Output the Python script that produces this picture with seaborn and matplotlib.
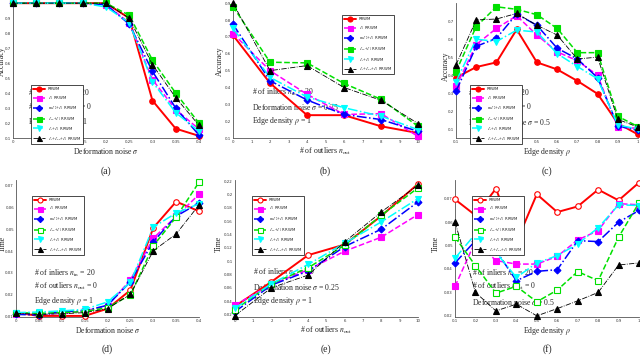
import matplotlib
matplotlib.use("Agg")
import numpy as np
import pandas as pd
import matplotlib.pyplot as plt
import seaborn as sns

# ---- data ----
methods = ["RRWM", r"$\ell_1$ RRWM", r"$\mathrm{nn}\ell_2{+}\ell_1$ RRWM",
           r"$\ell_{nn}{+}\ell_1$ RRWM", r"$\ell_g{+}\ell_1$ RRWM",
           r"$\ell_g{+}\ell_{nn}{+}\ell_1$ RRWM"]

noise = [0, 0.05, 0.1, 0.15, 0.2, 0.25, 0.3, 0.35, 0.4]
outliers = [0, 2, 4, 6, 8, 10]
density = [0.1, 0.2, 0.3, 0.4, 0.5, 0.6, 0.7, 0.8, 0.9, 1.0]

acc_noise = [
    [1, 1, 1, 1, 1, 0.90, 0.35, 0.163, 0.115],
    [1, 1, 1, 1, 0.99, 0.87, 0.49, 0.29, 0.16],
    [1, 1, 1, 1, 0.99, 0.86, 0.545, 0.30, 0.12],
    [1, 1, 1, 1, 1, 0.92, 0.62, 0.40, 0.20],
    [1, 1, 1, 1, 0.975, 0.87, 0.475, 0.27, 0.145],
    [1, 1, 1, 1, 1, 0.90, 0.59, 0.37, 0.185],
]
acc_outliers = [
    [0.71, 0.426, 0.236, 0.236, 0.17, 0.13],
    [0.72, 0.50, 0.36, 0.24, 0.245, 0.11],
    [0.775, 0.44, 0.326, 0.24, 0.21, 0.14],
    [0.88, 0.55, 0.546, 0.424, 0.33, 0.17],
    [0.75, 0.46, 0.344, 0.28, 0.23, 0.15],
    [0.90, 0.50, 0.53, 0.40, 0.324, 0.186],
]
acc_density = [
    [0.386, 0.445, 0.471, 0.654, 0.471, 0.432, 0.368, 0.296, 0.132, 0.07],
    [0.337, 0.57, 0.66, 0.73, 0.623, 0.53, 0.48, 0.40, 0.11, 0.105],
    [0.31, 0.56, 0.605, 0.74, 0.677, 0.55, 0.49, 0.386, 0.118, 0.093],
    [0.42, 0.67, 0.78, 0.766, 0.736, 0.66, 0.525, 0.525, 0.171, 0.114],
    [0.364, 0.60, 0.587, 0.65, 0.64, 0.52, 0.448, 0.38, 0.123, 0.10],
    [0.457, 0.707, 0.712, 0.743, 0.677, 0.623, 0.49, 0.50, 0.154, 0.111],
]
time_noise = [
    [0.0118, 0.0103, 0.0103, 0.0103, 0.0136, 0.0221, 0.0506, 0.0626, 0.0582],
    [0.0113, 0.0113, 0.0113, 0.0126, 0.0149, 0.0268, 0.0458, 0.0559, 0.0659],
    [0.0110, 0.0107, 0.0123, 0.0126, 0.0152, 0.0259, 0.0443, 0.0559, 0.0620],
    [0.0118, 0.0115, 0.0118, 0.0123, 0.0141, 0.0199, 0.0424, 0.0555, 0.0715],
    [0.0118, 0.0121, 0.0126, 0.0133, 0.0167, 0.0256, 0.0509, 0.0574, 0.0616],
    [0.0115, 0.0110, 0.0113, 0.0118, 0.0136, 0.0202, 0.0401, 0.0478, 0.0611],
]
time_outliers = [
    [0.032, 0.069, 0.109, 0.125, 0.168, 0.216],
    [0.034, 0.065, 0.087, 0.115, 0.136, 0.170],
    [0.024, 0.064, 0.085, 0.122, 0.148, 0.189],
    [0.027, 0.066, 0.090, 0.124, 0.169, 0.210],
    [0.029, 0.066, 0.095, 0.127, 0.159, 0.194],
    [0.018, 0.060, 0.079, 0.129, 0.174, 0.214],
]
time_density = [
    [0.0697, 0.0629, 0.0743, 0.0514, 0.0719, 0.0643, 0.0667, 0.0739, 0.0693, 0.0769],
    [0.0326, 0.0519, 0.0436, 0.0421, 0.0421, 0.0454, 0.0524, 0.0564, 0.0679, 0.0674],
    [0.0426, 0.0521, 0.0479, 0.0350, 0.0390, 0.0397, 0.0521, 0.0517, 0.0600, 0.0650],
    [0.0536, 0.0414, 0.0297, 0.0326, 0.0260, 0.0310, 0.0389, 0.0350, 0.0536, 0.0683],
    [0.0446, 0.0550, 0.0471, 0.0364, 0.0426, 0.0457, 0.0507, 0.0576, 0.0674, 0.0671],
    [0.0600, 0.0300, 0.0221, 0.0250, 0.0200, 0.0231, 0.0264, 0.0300, 0.0417, 0.0426],
]

# ---- styling ----
colors = ["#ff0000", "#ff00ff", "#0000ff", "#00e000", "#00ffff", "#000000"]
markers = ["o", "s", "D", "s", "v", "^"]
lstyles = ["-", "--", "-.", "--", "-.", "-."]
lwidths = [1.4, 1.1, 1.1, 1.1, 1.1, 0.6]
SERIF = ["Liberation Serif", "DejaVu Serif"]

sns.set_style("white")
plt.rcParams["font.family"] = ["DejaVu Sans"]
plt.rcParams["mathtext.fontset"] = "stix"

fig = plt.figure(figsize=(6.4, 3.55), dpi=100)

panels = [
    dict(x=noise, ys=acc_noise, rect=[0.0203, 0.611, 0.2906, 0.380],
         xlabel=r"Deformation noise $\sigma$", ylabel="Accuracy",
         xticks=noise, yticks=np.arange(0.1, 0.95, 0.1), ylim=(0.1, 1.0),
         texts=[r"# of inliers $n_{\rm in}$ = 20", r"# of outliers $n_{\rm out}$ = 0",
                r"Edge density $\rho$ = 1"],
         tpos=(0.08, [0.333, 0.23, 0.12]), lpos=(0.097, 0.393), ylab=(-0.038, 0.57),
         tag="(a)", hollow=False),
    dict(x=outliers, ys=acc_outliers, rect=[0.3641, 0.611, 0.2891, 0.380],
         xlabel=r"# of outliers $n_{\rm out}$", ylabel="Accuracy",
         xticks=range(0, 11), yticks=np.arange(0.1, 0.95, 0.1), ylim=(0.1, 0.9),
         texts=[r"# of inliers $n_{\rm in}$ = 20", r"Deformation noise $\sigma$ = 0.25",
                r"Edge density $\rho$ = 1"],
         tpos=(0.103, [0.34, 0.23, 0.126]), lpos=(0.589, 0.91), ylab=(-0.049, 0.57),
         tag="(b)", hollow=False),
    dict(x=density, ys=acc_density, rect=[0.7125, 0.611, 0.2844, 0.380],
         xlabel=r"Edge density $\rho$", ylabel="Accuracy",
         xticks=density, yticks=np.arange(0.1, 0.75, 0.1), ylim=(0.05, 0.8),
         texts=[r"# of inliers $n_{\rm in}$ = 20", r"# of outliers $n_{\rm out}$ = 0",
                r"Deformation noise $\sigma$ = 0.5"],
         tpos=(0.066, [0.333, 0.23, 0.12]), lpos=(0.077, 0.393), ylab=(-0.033, 0.53),
         tag="(c)", hollow=False),
    dict(x=noise, ys=time_noise, rect=[0.025, 0.107, 0.286, 0.386],
         xlabel=r"Deformation noise $\sigma$", ylabel="Time",
         xticks=noise, yticks=np.arange(0.01, 0.075, 0.01), ylim=(0.0098, 0.0725),
         texts=[r"# of inliers $n_{\rm in}$ = 20", r"# of outliers $n_{\rm out}$ = 0",
                r"Edge density $\rho$ = 1"],
         tpos=(0.098, [0.32, 0.226, 0.117]), lpos=(0.087, 0.883), ylab=(-0.052, 0.53),
         tag="(d)", hollow=True),
    dict(x=outliers, ys=time_outliers, rect=[0.367, 0.107, 0.286, 0.386],
         xlabel=r"# of outliers $n_{\rm out}$", ylabel="Time",
         xticks=range(0, 11), yticks=np.arange(0.02, 0.225, 0.02), ylim=(0.016, 0.222),
         texts=[r"# of inliers $n_{\rm in}$ = 20", r"Deformation noise $\sigma$ = 0.25",
                r"Edge density $\rho$ = 1"],
         tpos=(0.098, [0.328, 0.219, 0.117]), lpos=(0.093, 0.883), ylab=(-0.066, 0.53),
         tag="(e)", hollow=True),
    dict(x=density, ys=time_density, rect=[0.711, 0.107, 0.2875, 0.386],
         xlabel=r"Edge density $\rho$", ylabel="Time",
         xticks=density, yticks=np.arange(0.02, 0.075, 0.01), ylim=(0.0195, 0.078),
         texts=[r"# of inliers $n_{\rm in}$ = 20", r"# of outliers $n_{\rm out}$ = 0",
                r"Deformation noise $\sigma$ = 0.5"],
         tpos=(0.092, [0.32, 0.226, 0.11]), lpos=(0.092, 0.883), ylab=(-0.08, 0.53),
         tag="(f)", hollow=True),
]

for p in panels:
    ax = fig.add_axes(p["rect"])
    for i, name in enumerate(methods):
        df = pd.DataFrame({"x": p["x"], "y": p["ys"][i]})
        face = "white" if (p["hollow"] and i in (0, 3)) else colors[i]
        sns.lineplot(data=df, x="x", y="y", ax=ax, color=colors[i], label=name,
                     marker=markers[i], linestyle=lstyles[i], linewidth=lwidths[i],
                     markersize=4 if i != 2 else 3.5, markerfacecolor=face,
                     markeredgecolor=colors[i], markeredgewidth=0.8,
                     clip_on=False, zorder=3, legend=False)
    ax.set_xlim(min(p["x"]), max(p["x"]))
    ax.set_ylim(*p["ylim"])
    ax.set_xticks(list(p["xticks"]))
    ax.set_xticklabels(["%g" % round(v, 3) for v in p["xticks"]])
    ax.set_yticks(p["yticks"])
    ax.set_yticklabels(["%g" % round(v, 3) for v in p["yticks"]])
    ax.tick_params(direction="in", length=1.5, width=0.5, labelsize=2.8, pad=1.5,
                   colors="#333333")
    sns.despine(ax=ax)
    for s in ("left", "bottom"):
        ax.spines[s].set_linewidth(0.6)
        ax.spines[s].set_color("#555555")
    ax.set_xlabel(p["xlabel"], family=SERIF, fontsize=5.6, labelpad=1.5)
    ax.set_ylabel(p["ylabel"], family=SERIF, fontsize=5.6)
    ax.yaxis.set_label_coords(*p["ylab"])
    tx, tys = p["tpos"]
    for t, ty in zip(p["texts"], tys):
        ax.text(tx, ty, t, transform=ax.transAxes, family=SERIF, fontsize=5.6,
                va="center", ha="left", zorder=1)
    handles = ax.get_lines()[:len(methods)]
    leg = ax.legend(handles, methods, loc="upper left", bbox_to_anchor=p["lpos"],
                    fontsize=2.8, handlelength=3.2, handletextpad=0.6,
                    labelspacing=0.75, borderpad=0.5, fancybox=False,
                    framealpha=1, edgecolor="black", markerscale=0.9,
                    borderaxespad=0)
    leg.get_frame().set_linewidth(0.5)
    leg.set_zorder(5)
    x0, w = p["rect"][0], p["rect"][2]
    tag_y = 0.518 if p["rect"][1] > 0.5 else 0.017
    fig.text(x0 + w / 2, tag_y, p["tag"], family=SERIF, fontsize=7, ha="center",
             va="center")

fig.savefig("out.png", dpi=100)
